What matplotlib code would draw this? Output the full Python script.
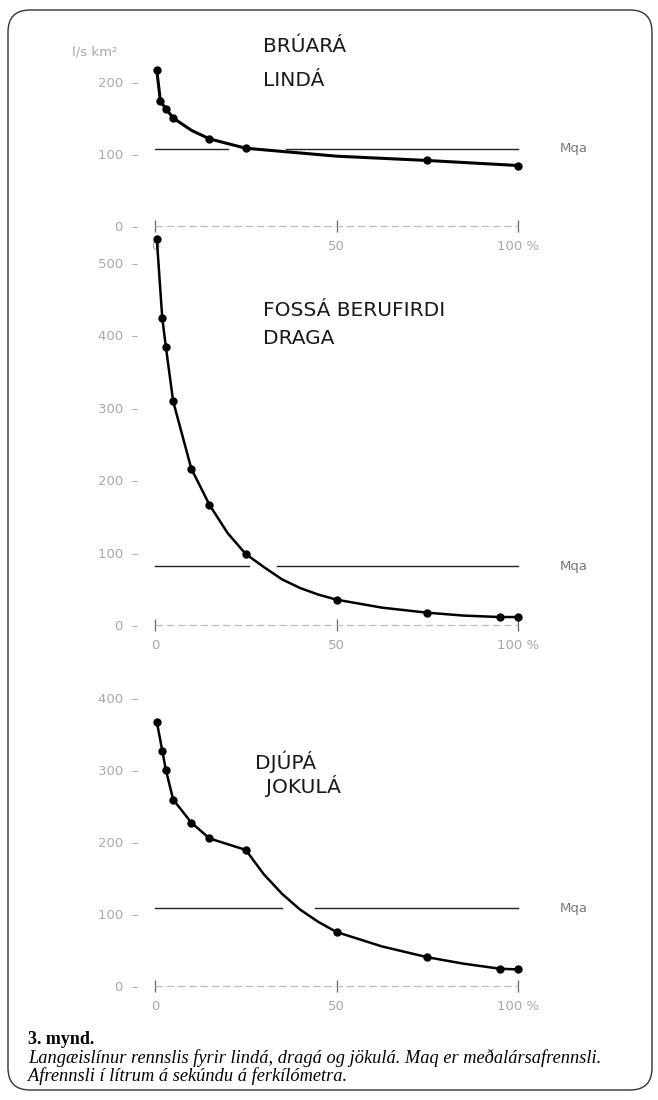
import matplotlib
matplotlib.use("Agg")
import matplotlib.pyplot as plt
from matplotlib.patches import FancyBboxPatch

# duration curves, l/s per km2 against % of time
# marked points
pct_lind = [0.5, 1.5, 3, 5, 15, 25, 75, 100]
q_lind = [216, 173, 163, 150, 121, 108, 91, 84]
# the drawn curve (includes unmarked spots)
line_pct_lind = [0.5, 1.5, 3, 5, 10, 15, 25, 50, 75, 100]
line_q_lind = [216, 173, 163, 150, 133, 121, 108, 97, 91, 84]
mqa_lind = 107

pct_drag = [0.5, 2, 3, 5, 10, 15, 25, 50, 75, 95, 100]
q_drag = [533, 424, 384, 309, 216, 166, 98, 35, 17, 11, 11]
line_pct_drag = [0.5, 2, 3, 5, 10, 15, 20, 25, 30, 35, 40, 45, 50, 62.5, 75, 85, 95, 100]
line_q_drag = [533, 424, 384, 309, 216, 166, 127, 98, 80, 63, 51, 42, 35, 24, 17, 13, 11, 11]
mqa_drag = 81

pct_jokul = [0.5, 2, 3, 5, 10, 15, 25, 50, 75, 95, 100]
q_jokul = [367, 327, 300, 259, 227, 205, 189, 75, 40, 24, 23]
line_pct_jokul = [0.5, 2, 3, 5, 10, 15, 25, 30, 35, 40, 45, 50, 62.5, 75, 85, 95, 100]
line_q_jokul = [367, 327, 300, 259, 227, 205, 189, 155, 128, 106, 89, 75, 55, 40, 31, 24, 23]
mqa_jokul = 108

# where the Mqa line is broken around the curve (% of time)
gap_lind = (20, 36)
gap_drag = (26, 33.5)
gap_jokul = (35, 44)

yticks_lind = [0, 100, 200]
yticks_drag = [0, 100, 200, 300, 400, 500]
yticks_jokul = [0, 100, 200, 300, 400]
xticks = [0, 50, 100]
xlabels = ["0", "50", "100 %"]

W, H = 658, 1100
FAINT = "#a8a8a8"

fig = plt.figure(figsize=(W / 100, H / 100), dpi=100)
fig.patch.set_facecolor("white")


def px(x, y):
    return x / W, 1 - y / H


def panel(ybot, yhi, scale, pct, q, lpct, lq, mqa, gap, yticks, lw=1.8):
    # x: 0 % at 155 px, 100 % at 518 px; y: 0 at ybot px
    x0, x1 = 155, 518
    ytop = ybot - yhi * scale
    ax = fig.add_axes([x0 / W, 1 - ybot / H, (x1 - x0) / W, (ybot - ytop) / H])
    ax.set_xlim(0, 100)
    ax.set_ylim(0, yhi)
    for s in ax.spines.values():
        s.set_visible(False)
    ax.patch.set_alpha(0)

    ax.plot(lpct, lq, color="black", lw=lw, clip_on=False, zorder=3,
            solid_joinstyle="round")
    ax.plot(pct, q, "o", color="black", ms=5, clip_on=False, zorder=4)

    ax.plot([0, gap[0]], [mqa, mqa], color="#222222", lw=1.0, clip_on=False)
    ax.plot([gap[1], 100], [mqa, mqa], color="#222222", lw=1.0, clip_on=False)
    ax.text(111.5, mqa, "Mqa", fontsize=9.5, color="#777777", va="center",
            clip_on=False)

    # faint x axis with cross ticks
    ax.plot([0, 100], [0, 0], color="#bbbbbb", lw=0.9, ls=(0, (6, 3)), clip_on=False)
    ax.set_xticks(xticks)
    ax.set_xticklabels(xlabels, fontsize=9.5, color=FAINT)
    ax.tick_params(axis="x", direction="inout", length=8, width=0.9,
                   color="#666666", pad=6)

    ax.set_yticks(yticks)
    ax.set_yticklabels([f"{v}  \u2013" for v in yticks], fontsize=9.5, color=FAINT)
    ax.tick_params(axis="y", length=0, pad=12)
    return ax


panel(226, 235, 0.72, pct_lind, q_lind, line_pct_lind, line_q_lind,
      mqa_lind, gap_lind, yticks_lind, lw=2.2)
panel(625, 550, 0.724, pct_drag, q_drag, line_pct_drag, line_q_drag,
      mqa_drag, gap_drag, yticks_drag)
panel(986, 420, 0.72, pct_jokul, q_jokul, line_pct_jokul, line_q_jokul,
      mqa_jokul, gap_jokul, yticks_jokul)

# unit label and river names
fig.text(*px(72, 52), "l/s km\u00b2", fontsize=9.5, color=FAINT, va="center")
title_kw = dict(fontsize=14.5, color="#1a1a1a", va="center", family="DejaVu Sans")
fig.text(*px(263, 47), "BRÚARÁ", **title_kw)
fig.text(*px(263, 81), "LINDÁ", **title_kw)
fig.text(*px(263, 311), "FOSSÁ BERUFIRDI", **title_kw)
fig.text(*px(263, 338), "DRAGA", **title_kw)
fig.text(*px(255, 762), "DJÚPÁ", **title_kw)
fig.text(*px(266, 786), "JOKULÁ", **title_kw)

# caption
fig.text(*px(28, 1040), "3. mynd.", fontsize=13, weight="bold",
         family="Liberation Serif", va="center")
fig.text(*px(28, 1058),
         "Langæislínur rennslis fyrir lindá, dragá og jökulá. Maq er meðalársafrennsli.",
         fontsize=13.2, style="italic", family="Liberation Serif", va="center")
fig.text(*px(28, 1076), "Afrennsli í lítrum á sekúndu á ferkílómetra.",
         fontsize=13.2, style="italic", family="Liberation Serif", va="center")

# rounded frame round the whole figure
frame = FancyBboxPatch((0.08, 0.10), 6.44, 10.80,
                       boxstyle="round,pad=0,rounding_size=0.22",
                       transform=fig.dpi_scale_trans, fill=False,
                       edgecolor="#333333", lw=1.0)
fig.patches.append(frame)

fig.savefig("out.png", dpi=100)
